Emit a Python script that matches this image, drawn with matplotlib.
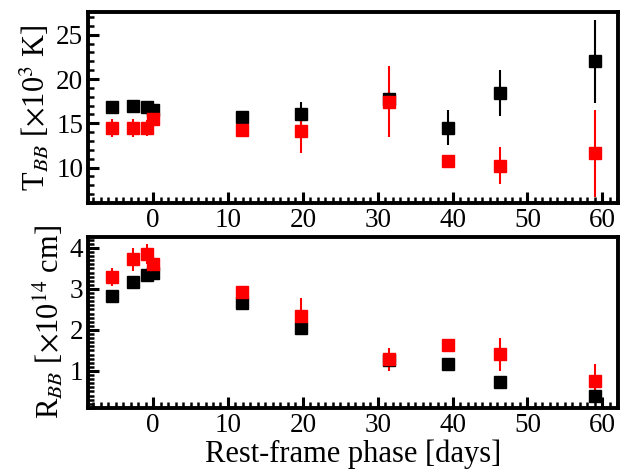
import matplotlib
matplotlib.use('Agg')
import matplotlib.pyplot as plt
from matplotlib.ticker import MultipleLocator

plt.rcParams['font.family'] = ['Liberation Serif', 'DejaVu Serif']
plt.rcParams['mathtext.fontset'] = 'stix'

# rest-frame phases (days)
phase = [-5.55, -2.67, -0.88, 0.0, 11.9, 19.7, 31.5, 39.4, 46.3, 59.0]

# blackbody temperature (10^3 K)
T_black = [16.9, 17.0, 16.8, 16.5, 15.7, 16.05, 17.7, 14.5, 18.4, 22.0]
T_black_err = [0.5, 0.5, 0.5, 0.4, 0.5, 1.4, 1.0, 1.95, 2.6, 4.7]
T_red = [14.45, 14.45, 14.5, 15.5, 14.2, 14.1, 17.45, 10.8, 10.2, 11.6]
T_red_err = [1.0, 1.0, 0.9, 0.5, 0.7, 2.4, 4.0, 0.6, 2.1, 4.95]

# blackbody radius (10^14 cm)
R_black = [2.82, 3.18, 3.33, 3.39, 2.65, 2.05, 1.27, 1.17, 0.74, 0.39]
R_black_err = [0.1, 0.1, 0.12, 0.08, 0.06, 0.12, 0.12, 0.12, 0.05, 0.05]
R_red = [3.29, 3.73, 3.85, 3.62, 2.92, 2.35, 1.29, 1.63, 1.41, 0.76]
R_red_err = [0.22, 0.28, 0.25, 0.15, 0.12, 0.42, 0.28, 0.15, 0.4, 0.4]

fig = plt.figure(figsize=(6.22, 4.71), dpi=100)
ax1 = fig.add_axes([0.1415, 0.569, 0.852, 0.406])
ax2 = fig.add_axes([0.1415, 0.134, 0.852, 0.363])

for ax in (ax1, ax2):
    for s in ax.spines.values():
        s.set_linewidth(2.8)
    ax.tick_params(which='both', direction='in', top=False, right=False, labelsize=19.5)
    ax.tick_params(which='major', length=8, width=2.2)
    ax.tick_params(which='minor', length=4, width=1.8)
    ax.xaxis.set_major_locator(MultipleLocator(10))
    ax.xaxis.set_minor_locator(MultipleLocator(1))
    ax.set_xlim(-8.7, 62.1)

ax1.errorbar(phase, T_black, yerr=T_black_err, fmt='s', color='black', ms=8, elinewidth=1.5, capsize=0)
ax1.errorbar(phase, T_red, yerr=T_red_err, fmt='s', color='red', ms=8, elinewidth=1.5, capsize=0)
ax1.set_ylim(6.0, 27.6)
ax1.yaxis.set_major_locator(MultipleLocator(5))
ax1.yaxis.set_minor_locator(MultipleLocator(1))
ax1.set_yticks([10, 15, 20, 25])
ax1.set_ylabel(r'T$_{BB}$ [$\times$10$^3$ K]', fontsize=22, labelpad=3)

ax2.errorbar(phase, R_black, yerr=R_black_err, fmt='s', color='black', ms=8, elinewidth=1.5, capsize=0)
ax2.errorbar(phase, R_red, yerr=R_red_err, fmt='s', color='red', ms=8, elinewidth=1.5, capsize=0)
ax2.set_ylim(0.1, 4.27)
ax2.yaxis.set_major_locator(MultipleLocator(1))
ax2.yaxis.set_minor_locator(MultipleLocator(0.1))
ax2.set_ylabel(r'R$_{BB}$ [$\times$10$^{14}$ cm]', fontsize=22, labelpad=3)
ax2.set_xlabel('Rest-frame phase [days]', fontsize=22, labelpad=1)

fig.savefig('out.png', dpi=100)
